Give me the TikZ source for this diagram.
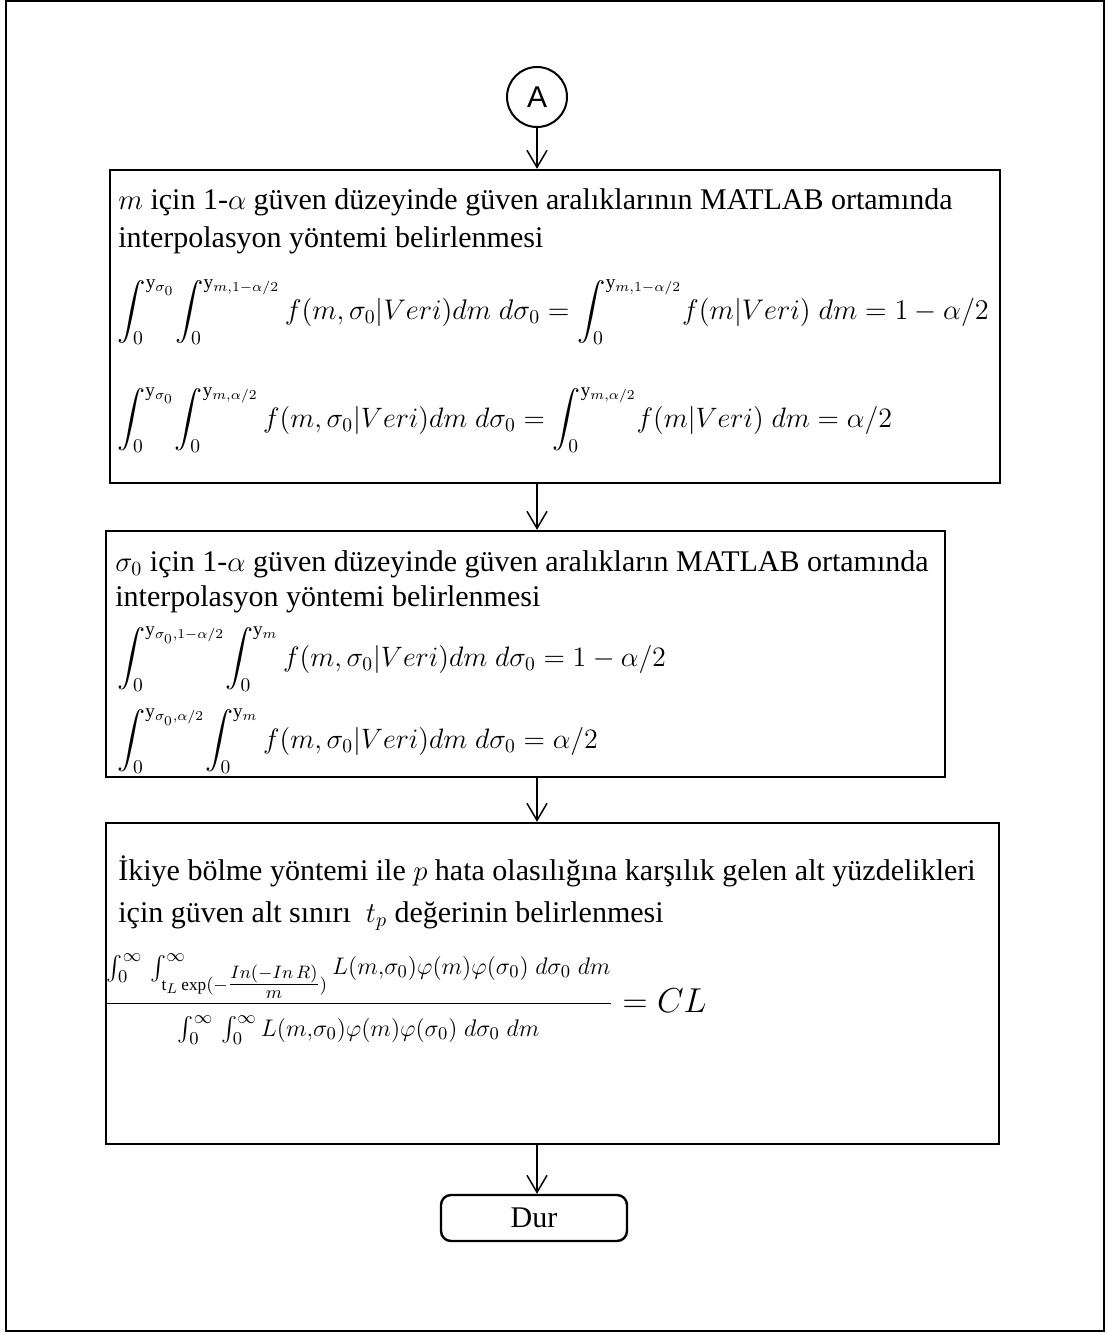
\documentclass[tikz,border=0pt]{standalone}
\usepackage{amsmath}
\usepackage{graphicx}
\usepackage{fontspec}
\setmainfont{Liberation Serif}
\newfontfamily\arialf{Liberation Sans}
\usetikzlibrary{arrows.meta}
\DeclareMathSizes{15}{15}{9.8}{7.5}
\DeclareMathSizes{12}{12}{8.6}{7}
\begin{document}
\begin{tikzpicture}[x=0.5pt,y=-0.5pt,
  box/.style={draw, line width=1.2pt, inner sep=0pt},
  arr/.style={-{Straight Barb[length=8.5pt,width=10pt]}, line width=0.75pt},
  txt/.style={anchor=base west, inner sep=0pt, font=\fontsize{15}{18}\selectfont},
  frm/.style={anchor=west, inner sep=0pt, font=\fontsize{15}{18}\selectfont}]
\useasboundingbox (0,0) rectangle (1107,1333);
\draw[line width=1pt] (6,1) rectangle (1104,1331);
\node[circle, draw, line width=1pt, minimum size=30pt, inner sep=0pt, font=\arialf\fontsize{15}{18}\selectfont] (A) at (537,97) {A};
\node[box, minimum width=445pt, minimum height=156.5pt] (b1) at (555,326.5) {};
\node[box, minimum width=419.5pt, minimum height=123pt] (b2) at (525.5,654) {};
\node[box, minimum width=446.5pt, minimum height=160.5pt] (b3) at (552.5,983.5) {};
\node[draw, line width=1.2pt, rounded corners=5pt, minimum width=93pt, minimum height=23pt, inner sep=0pt, font=\fontsize{15}{18}\selectfont] (dur) at (534,1218) {Dur};
% box 1
\node[txt] (t11) at (118,209) {$m$ için 1-$\alpha$ güven düzeyinde güven aralıklarının MATLAB ortamında};
\node[txt] (t12) at (118,247) {interpolasyon yöntemi belirlenmesi};
\node[frm] (f11) at (117,312) {\scalebox{0.985}{$\displaystyle\int_0^{\mathrm{y}_{\sigma_0}}\!\int_0^{\mathrm{y}_{m,1-\alpha/2}} f(m,\sigma_0|Veri)dm\;d\sigma_0=\int_0^{\mathrm{y}_{m,1-\alpha/2}}\! f(m|Veri)\;dm=1-\alpha/2$}};
\node[frm] (f12) at (117,420) {\scalebox{0.975}{$\displaystyle\int_0^{\mathrm{y}_{\sigma_0}}\!\int_0^{\mathrm{y}_{m,\alpha/2}} f(m,\sigma_0|Veri)dm\;d\sigma_0=\int_0^{\mathrm{y}_{m,\alpha/2}}\! f(m|Veri)\;dm=\alpha/2$}};
% box 2
\node[txt] (t21) at (115,571) {$\sigma_0$ için 1-$\alpha$ güven düzeyinde güven aralıkların MATLAB ortamında};
\node[txt] (t22) at (115,606) {interpolasyon yöntemi belirlenmesi};
\node[frm] (f21) at (117,659) {\scalebox{0.975}{$\displaystyle\int_0^{\mathrm{y}_{\sigma_0,1-\alpha/2}}\!\int_0^{\mathrm{y}_m} f(m,\sigma_0|Veri)dm\;d\sigma_0=1-\alpha/2$}};
\node[frm] (f22) at (117,741) {\scalebox{0.975}{$\displaystyle\int_0^{\mathrm{y}_{\sigma_0,\alpha/2}}\!\int_0^{\mathrm{y}_m} f(m,\sigma_0|Veri)dm\;d\sigma_0=\alpha/2$}};
% box 3
\node[txt] (t31) at (118,880) {İkiye bölme yöntemi ile $p$ hata olasılığına karşılık gelen alt yüzdelikleri};
\node[txt] (t32) at (118,922) {için güven alt sınırı \ $t_p$ değerinin belirlenmesi};
\node[frm, font=\fontsize{16.5}{20}\selectfont] (f31) at (104,999) {$\dfrac{\text{\fontsize{12}{14}\selectfont$\int_0^{\infty}\,\int_{\mathrm{t}_L\exp(-{\textstyle\frac{In(-In\,R)}{m}})}^{\infty} L(m,\!\sigma_0)\varphi(m)\varphi(\sigma_0)\;d\sigma_0\;dm$}}{\text{\fontsize{12}{14}\selectfont$\int_0^{\infty}\,\int_0^{\infty} L(m,\!\sigma_0)\varphi(m)\varphi(\sigma_0)\;d\sigma_0\;dm$}}=CL$};
% arrows
\draw[arr] (A.south) -- (A.south |- b1.north);
\draw[arr] (b1.south -| A) -- (b2.north -| A);
\draw[arr] (b2.south -| A) -- (b3.north -| A);
\draw[arr] (b3.south -| A) -- (dur.north -| A);
\end{tikzpicture}
\end{document}
